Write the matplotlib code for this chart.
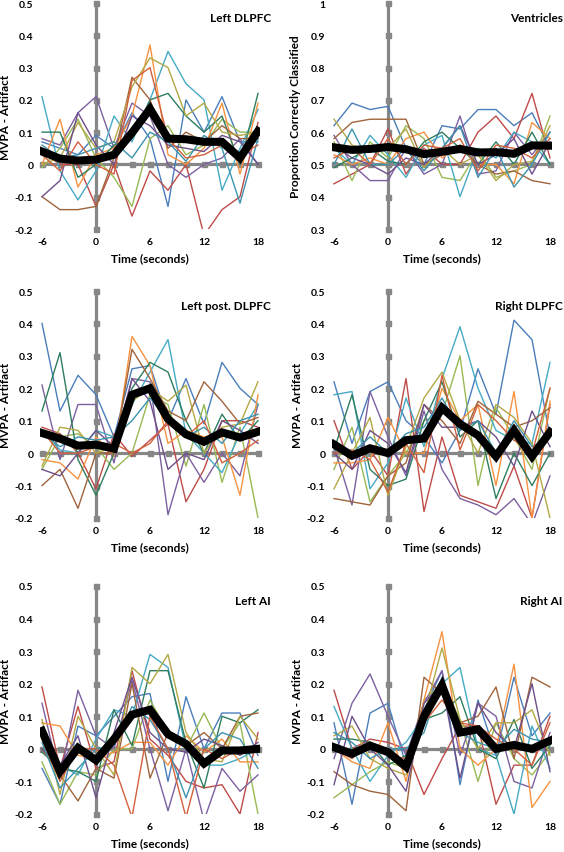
import matplotlib
matplotlib.use("Agg")
import matplotlib.pyplot as plt

plt.rcParams["font.family"] = ["Lato", "DejaVu Sans"]
plt.rcParams["font.weight"] = "bold"

# time points (seconds)
time = [-6, -4, -2, 0, 2, 4, 6, 8, 10, 12, 14, 16, 18]
xticks = [-6, 0, 6, 12, 18]
xtick_labels = ["-6", "0", "6", "12", "18"]
mvpa_ticks = [-0.2, -0.1, 0, 0.1, 0.2, 0.3, 0.4, 0.5]
mvpa_tick_labels = ["-0.2", "-0.1", "0", "0.1", "0.2", "0.3", "0.4", "0.5"]
prop_ticks = [0.3, 0.4, 0.5, 0.6, 0.7, 0.8, 0.9, 1.0]
prop_tick_labels = ["0.3", "0.4", "0.5", "0.6", "0.7", "0.8", "0.9", "1"]

# Excel-like line colours for the individual subjects
subject_colors = ["#4A7EBB", "#BE4B48", "#98B954", "#7D60A0", "#46AAC5", "#F69240",
                  "#2E7D5E", "#A0643C", "#B3A844", "#6E4F8A", "#3C93AE", "#D2603C"]

# ---- Left DLPFC ----
left_dlpfc_mean = [0.04, 0.018, 0.012, 0.015, 0.03, 0.098, 0.172, 0.08, 0.078, 0.07, 0.07, 0.02, 0.103]
left_dlpfc_subjects = [
    [0.07, 0.05, 0.03, 0.09, 0.05, 0.16, 0.08, -0.13, 0.20, 0.10, 0.21, 0.07, 0.07],
    [0.04, 0.00, 0.00, -0.13, 0.00, -0.16, -0.02, -0.08, 0.00, -0.22, -0.14, -0.10, 0.13],
    [-0.01, 0.05, 0.14, 0.02, -0.04, -0.13, 0.08, 0.12, 0.03, 0.06, 0.14, 0.10, 0.10],
    [0.08, 0.06, 0.16, 0.21, 0.05, 0.19, 0.15, 0.00, -0.04, 0.00, 0.02, 0.08, 0.00],
    [0.21, -0.02, -0.11, -0.02, 0.15, 0.07, 0.20, 0.35, 0.25, 0.20, -0.08, 0.05, 0.17],
    [0.00, 0.14, -0.07, 0.03, 0.05, 0.15, 0.37, 0.03, 0.00, 0.05, 0.19, -0.03, 0.19],
    [0.10, 0.10, -0.04, 0.00, 0.06, 0.08, 0.20, 0.22, 0.15, 0.10, 0.15, 0.00, 0.22],
    [-0.10, -0.14, -0.14, -0.13, 0.02, 0.27, 0.20, 0.05, 0.10, 0.07, 0.12, 0.08, 0.08],
    [0.00, 0.02, 0.13, 0.05, 0.07, 0.24, 0.33, 0.30, 0.15, 0.19, 0.10, 0.09, 0.10],
    [-0.10, -0.05, 0.16, 0.06, 0.00, 0.15, 0.12, 0.06, 0.05, 0.04, 0.09, 0.07, 0.00],
    [0.06, 0.02, 0.03, 0.05, 0.07, 0.02, 0.10, 0.07, 0.01, 0.09, 0.05, -0.12, 0.08],
    [0.03, -0.02, 0.07, 0.00, -0.03, 0.26, 0.30, 0.08, 0.02, 0.03, 0.06, 0.03, 0.06],
]

# ---- Ventricles ----
ventricles_mean = [0.553, 0.545, 0.548, 0.554, 0.547, 0.532, 0.539, 0.548, 0.537, 0.538, 0.533, 0.559, 0.558]
ventricles_subjects = [
    [0.62, 0.69, 0.67, 0.68, 0.55, 0.50, 0.62, 0.61, 0.67, 0.67, 0.62, 0.66, 0.55],
    [0.44, 0.47, 0.50, 0.61, 0.47, 0.55, 0.50, 0.50, 0.60, 0.65, 0.58, 0.72, 0.52],
    [0.57, 0.45, 0.57, 0.52, 0.62, 0.58, 0.46, 0.45, 0.54, 0.46, 0.48, 0.50, 0.65],
    [0.59, 0.50, 0.45, 0.45, 0.55, 0.47, 0.50, 0.65, 0.47, 0.48, 0.60, 0.53, 0.60],
    [0.55, 0.50, 0.59, 0.53, 0.46, 0.56, 0.59, 0.40, 0.55, 0.52, 0.60, 0.57, 0.50],
    [0.53, 0.50, 0.52, 0.50, 0.58, 0.60, 0.52, 0.56, 0.50, 0.50, 0.44, 0.63, 0.58],
    [0.49, 0.52, 0.55, 0.51, 0.50, 0.57, 0.60, 0.55, 0.50, 0.57, 0.50, 0.60, 0.50],
    [0.58, 0.63, 0.64, 0.64, 0.64, 0.50, 0.53, 0.56, 0.50, 0.47, 0.48, 0.45, 0.44],
    [0.64, 0.56, 0.54, 0.55, 0.61, 0.49, 0.55, 0.50, 0.53, 0.45, 0.50, 0.51, 0.62],
    [0.56, 0.52, 0.50, 0.47, 0.52, 0.50, 0.55, 0.62, 0.50, 0.53, 0.58, 0.47, 0.57],
    [0.50, 0.61, 0.50, 0.50, 0.55, 0.48, 0.55, 0.62, 0.46, 0.55, 0.43, 0.50, 0.60],
    [0.52, 0.55, 0.50, 0.58, 0.50, 0.56, 0.55, 0.58, 0.48, 0.56, 0.55, 0.52, 0.58],
]

# ---- Left post. DLPFC ----
left_post_mean = [0.062, 0.045, 0.023, 0.026, 0.014, 0.18, 0.2, 0.105, 0.058, 0.035, 0.064, 0.048, 0.066]
left_post_subjects = [
    [0.40, 0.13, 0.24, 0.18, 0.05, 0.26, 0.27, 0.10, 0.23, 0.09, 0.28, 0.20, 0.15],
    [0.08, 0.06, 0.00, -0.11, 0.06, -0.01, 0.04, 0.09, -0.15, -0.05, 0.10, 0.10, 0.08],
    [-0.05, 0.05, 0.06, 0.02, -0.05, 0.00, 0.18, 0.15, -0.04, 0.15, -0.09, 0.08, -0.20],
    [0.21, -0.02, 0.15, 0.15, -0.03, 0.23, 0.22, -0.19, 0.00, -0.09, 0.00, -0.07, 0.15],
    [0.07, 0.01, 0.00, 0.07, 0.05, 0.15, 0.25, 0.35, 0.06, 0.00, -0.06, 0.06, 0.15],
    [-0.02, -0.03, -0.08, 0.05, -0.01, 0.36, 0.27, 0.03, 0.07, 0.05, 0.05, -0.13, 0.18],
    [0.13, 0.31, -0.02, -0.13, 0.00, 0.20, 0.28, 0.25, 0.10, 0.00, 0.12, 0.04, 0.10],
    [-0.10, -0.05, -0.17, 0.00, 0.00, 0.32, 0.23, 0.13, 0.10, 0.22, 0.16, 0.09, 0.11],
    [-0.04, 0.08, 0.07, 0.00, 0.02, 0.16, 0.20, 0.16, 0.21, 0.00, 0.08, 0.09, 0.22],
    [-0.05, -0.07, 0.00, 0.07, 0.02, 0.23, 0.16, -0.05, 0.00, -0.02, 0.10, 0.07, 0.03],
    [0.06, 0.02, 0.05, 0.04, 0.05, 0.10, 0.17, 0.10, 0.05, 0.08, 0.03, 0.10, 0.12],
    [0.07, 0.00, 0.00, 0.02, 0.03, 0.00, 0.03, 0.10, 0.05, 0.10, -0.03, 0.00, 0.04],
]

# ---- Right DLPFC ----
right_dlpfc_mean = [0.027, -0.008, 0.015, 0.0, 0.04, 0.045, 0.14, 0.09, 0.055, -0.01, 0.07, -0.01, 0.065]
right_dlpfc_subjects = [
    [0.22, 0.03, 0.19, 0.22, 0.10, 0.05, -0.03, 0.07, 0.26, 0.12, 0.41, 0.35, 0.05],
    [0.10, -0.05, 0.01, -0.07, 0.23, -0.18, 0.05, -0.13, -0.15, -0.17, -0.04, -0.20, 0.15],
    [-0.05, 0.08, -0.15, -0.07, 0.00, 0.10, 0.12, 0.30, -0.10, 0.14, 0.05, -0.05, 0.20],
    [0.02, -0.16, 0.19, 0.05, -0.07, 0.13, -0.05, -0.14, -0.16, -0.19, -0.14, -0.22, -0.07],
    [0.18, 0.19, -0.11, -0.03, 0.17, 0.02, 0.23, 0.39, 0.20, 0.07, 0.04, 0.03, 0.28],
    [-0.03, -0.03, -0.02, 0.11, 0.00, 0.00, 0.20, 0.10, 0.15, -0.10, 0.19, -0.20, 0.16],
    [0.01, 0.18, -0.05, -0.10, -0.08, 0.10, 0.22, 0.05, 0.10, -0.14, 0.00, -0.10, 0.00],
    [-0.14, -0.15, -0.16, -0.07, -0.03, 0.15, 0.10, 0.03, 0.16, 0.12, 0.08, 0.10, 0.14],
    [-0.11, 0.00, 0.11, -0.13, 0.02, 0.17, 0.25, 0.10, 0.00, 0.15, 0.11, 0.03, -0.20],
    [0.00, -0.05, 0.07, 0.03, -0.06, 0.15, 0.08, 0.08, 0.10, 0.05, -0.04, 0.13, 0.02],
    [0.02, 0.00, 0.05, 0.00, 0.06, 0.08, 0.17, 0.07, 0.10, 0.00, 0.10, 0.02, 0.05],
    [0.00, 0.01, -0.02, -0.12, 0.03, -0.06, 0.24, 0.01, 0.15, 0.10, 0.04, 0.00, 0.20],
]

# ---- Left AI ----
left_ai_mean = [0.055, -0.07, 0.003, -0.035, 0.03, 0.105, 0.12, 0.045, 0.015, -0.045, -0.005, -0.005, 0.0]
left_ai_subjects = [
    [-0.06, -0.17, 0.07, 0.04, 0.10, 0.16, 0.17, -0.10, 0.16, 0.00, 0.11, 0.11, -0.02],
    [0.19, -0.06, 0.13, -0.06, -0.04, 0.24, 0.03, -0.02, -0.10, -0.12, -0.11, -0.20, 0.05],
    [-0.04, -0.17, -0.07, -0.08, 0.00, 0.00, 0.15, 0.05, 0.00, 0.11, 0.00, 0.08, -0.20],
    [0.14, -0.09, 0.18, 0.04, 0.00, 0.21, 0.00, -0.19, 0.00, -0.22, -0.06, -0.13, -0.08],
    [0.00, -0.05, -0.08, 0.03, 0.12, 0.10, 0.29, 0.25, 0.00, -0.05, -0.05, -0.03, 0.00],
    [0.08, 0.07, -0.02, -0.03, -0.01, 0.02, 0.02, -0.05, 0.04, -0.01, 0.03, -0.04, -0.04],
    [-0.01, -0.06, -0.07, -0.10, 0.12, 0.01, 0.24, 0.24, 0.02, -0.12, 0.10, 0.08, 0.12],
    [0.00, -0.08, -0.16, -0.06, -0.09, 0.20, -0.09, 0.05, 0.01, 0.05, 0.00, 0.10, 0.11],
    [0.09, -0.14, 0.10, 0.00, -0.08, 0.25, 0.20, 0.29, 0.05, -0.03, -0.04, 0.10, 0.03],
    [0.00, -0.05, 0.04, -0.15, 0.05, 0.22, 0.05, 0.00, -0.01, 0.03, 0.01, -0.02, 0.02],
    [0.02, -0.12, -0.06, 0.00, 0.01, 0.13, 0.09, 0.00, -0.15, 0.00, 0.05, 0.03, -0.06],
    [0.03, -0.10, 0.00, 0.00, -0.05, -0.21, 0.10, 0.00, -0.21, 0.00, -0.03, 0.00, 0.01],
]

# ---- Right AI ----
right_ai_mean = [0.005, -0.015, 0.01, -0.01, -0.055, 0.1, 0.195, 0.05, 0.06, 0.0, 0.012, 0.0, 0.025]
right_ai_subjects = [
    [0.08, -0.17, 0.11, 0.14, -0.05, 0.12, 0.24, -0.11, 0.15, -0.02, 0.22, 0.04, 0.11],
    [0.18, 0.00, 0.03, 0.02, 0.00, -0.14, -0.03, 0.07, 0.07, -0.17, -0.05, -0.05, 0.10],
    [-0.15, -0.11, -0.07, -0.04, -0.06, 0.15, 0.20, 0.09, -0.10, 0.08, -0.03, -0.08, -0.01],
    [-0.03, 0.14, 0.23, 0.10, -0.02, 0.14, 0.24, -0.02, 0.14, 0.10, -0.10, -0.12, 0.05],
    [0.13, 0.00, -0.10, -0.02, 0.02, 0.10, 0.20, 0.25, 0.00, -0.02, -0.20, 0.07, -0.06],
    [0.00, -0.04, -0.06, 0.08, -0.10, 0.15, 0.36, 0.00, -0.05, 0.00, 0.26, -0.18, -0.10],
    [0.03, 0.03, 0.02, -0.05, -0.02, 0.09, 0.11, 0.16, 0.00, -0.03, 0.09, -0.06, 0.01],
    [-0.07, -0.11, -0.13, -0.14, -0.19, 0.22, 0.17, 0.08, 0.10, 0.19, -0.03, 0.22, 0.19],
    [0.04, 0.07, -0.03, -0.06, -0.08, 0.10, 0.31, 0.09, 0.00, 0.08, 0.08, 0.12, -0.02],
    [-0.11, 0.10, 0.00, -0.05, -0.13, 0.14, 0.20, -0.09, 0.14, 0.05, 0.00, 0.20, -0.07],
    [0.05, 0.02, -0.03, 0.00, 0.00, 0.05, 0.22, 0.05, 0.02, 0.00, 0.06, 0.03, 0.02],
    [0.00, -0.03, 0.02, -0.02, -0.03, 0.08, 0.15, 0.08, 0.07, 0.03, 0.00, -0.05, 0.08],
]

W, H = 564, 853
fig = plt.figure(figsize=(W / 100, H / 100), dpi=100)

XPAD = 0.2          # extra room at both ends of the time axis
PX_PER_SEC = 9.0    # 216 px for 24 s
AX_W = (24 + 2 * XPAD) * PX_PER_SEC


def make_axes(x_m6, y_top, y_bot):
    left = x_m6 - XPAD * PX_PER_SEC
    return fig.add_axes([left / W, 1 - y_bot / H, AX_W / W, (y_bot - y_top) / H])


def draw_panel(ax, subjects, mean, title, ylim, yticks, ylabels, cross, ylabel, ylabel_off):
    ax.set_xlim(-6 - XPAD, 18 + XPAD)
    ax.set_ylim(*ylim)
    for s in ax.spines.values():
        s.set_visible(False)

    # Excel style axes crossing at 0 s and at the baseline
    grey = "#878787"
    ax.plot([0, 0], ylim, color=grey, lw=2.3, zorder=1, clip_on=False)
    ax.plot([0] * len(yticks), yticks, ls="none", marker="s", markersize=3.6,
            color=grey, zorder=1, clip_on=False)
    ax.plot([-6, 18], [cross, cross], color=grey, lw=2.3, zorder=1, clip_on=False)
    ax.plot(time, [cross] * len(time), ls="none", marker="s", markersize=3.6,
            color=grey, zorder=1, clip_on=False)

    for i, s in enumerate(subjects):
        ax.plot(time, s, color=subject_colors[i % len(subject_colors)], lw=1.0, zorder=2)
    ax.plot(time, mean, color="black", lw=5.8, zorder=3, solid_joinstyle="miter")

    ax.set_xticks(xticks)
    ax.set_xticklabels(xtick_labels)
    ax.set_yticks(yticks)
    ax.set_yticklabels(ylabels)
    ax.tick_params(length=0, labelsize=7.5)
    ax.tick_params(axis="y", pad=5)
    ax.tick_params(axis="x", pad=6)
    for lab in ax.get_xticklabels() + ax.get_yticklabels():
        lab.set_fontweight("bold")

    ax.set_xlabel("Time (seconds)", fontsize=8.5, fontweight="bold", labelpad=4)
    ax.set_ylabel(ylabel, fontsize=8.5, fontweight="bold")
    ax.yaxis.set_label_coords(ylabel_off / AX_W, 0.5)
    ax.text(1.0 + 11 / AX_W, 0.935, title, transform=ax.transAxes, ha="right",
            va="center", fontsize=8.5, fontweight="bold")


mv_lim = (-0.2, 0.5)
pr_lim = (0.3, 1.0)

ax1 = make_axes(42, 4, 230)
draw_panel(ax1, left_dlpfc_subjects, left_dlpfc_mean, "Left DLPFC", mv_lim,
           mvpa_ticks, mvpa_tick_labels, 0, "MVPA - Artifact", -29)
ax2 = make_axes(334, 4, 230)
draw_panel(ax2, ventricles_subjects, ventricles_mean, "Ventricles", pr_lim,
           prop_ticks, prop_tick_labels, 0.5, "Proportion Correctly Classified", -31)
ax3 = make_axes(42, 292, 519)
draw_panel(ax3, left_post_subjects, left_post_mean, "Left post. DLPFC", mv_lim,
           mvpa_ticks, mvpa_tick_labels, 0, "MVPA - Artifact", -29)
ax4 = make_axes(334, 292, 519)
draw_panel(ax4, right_dlpfc_subjects, right_dlpfc_mean, "Right DLPFC", mv_lim,
           mvpa_ticks, mvpa_tick_labels, 0, "MVPA - Artifact", -29)
ax5 = make_axes(42, 587, 815)
draw_panel(ax5, left_ai_subjects, left_ai_mean, "Left AI", mv_lim,
           mvpa_ticks, mvpa_tick_labels, 0, "MVPA - Artifact", -29)
ax6 = make_axes(334, 587, 815)
draw_panel(ax6, right_ai_subjects, right_ai_mean, "Right AI", mv_lim,
           mvpa_ticks, mvpa_tick_labels, 0, "MVPA - Artifact", -29)

fig.savefig("out.png", dpi=100)
